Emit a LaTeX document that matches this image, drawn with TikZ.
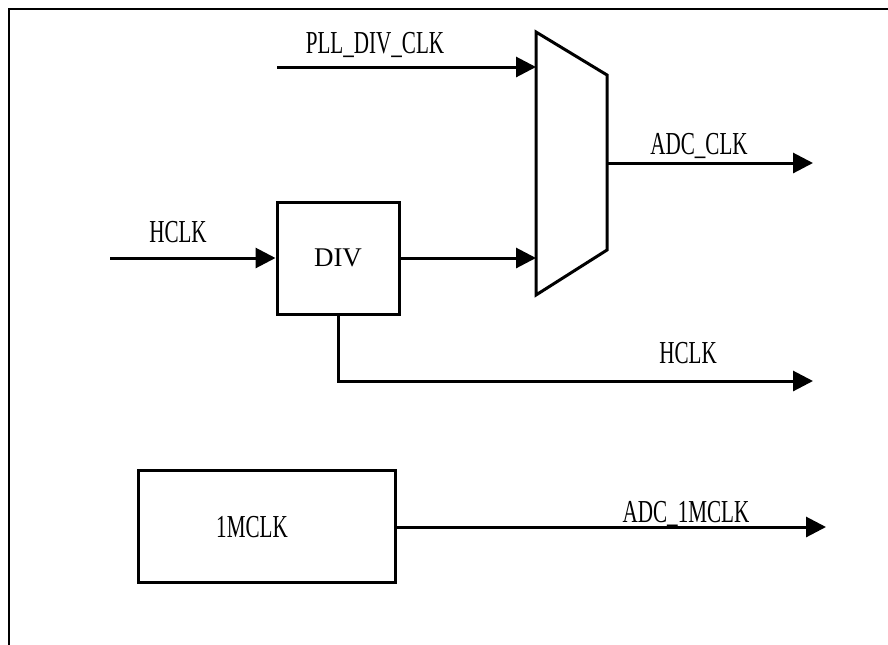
\documentclass[tikz,border=0pt]{standalone}
\usepackage{fontspec}
\setmainfont{Liberation Serif}
\newfontfamily\sigfont[FakeStretch=0.66]{Liberation Serif}
\usetikzlibrary{arrows.meta,positioning,calc}

\begin{document}
\begin{tikzpicture}[x=0.5pt,y=-0.5pt,>={Triangle[length=10pt,width=10pt]}]
  \tikzstyle{blk}=[draw,line width=1.5pt,inner sep=0pt]
  \tikzstyle{wire}=[line width=1.5pt]
  \tikzstyle{sig}=[font=\sigfont\fontsize{16}{16}\selectfont,anchor=base,inner sep=0pt]
  \useasboundingbox (0,0) rectangle (888,644);
  \draw[line width=0.8pt] (9,660) -- (9,9) -- (900,9);
  % mux
  \coordinate (mtl) at (536,32);
  \coordinate (mtr) at (607,75);
  \coordinate (mbr) at (607,250);
  \coordinate (mbl) at (536,295);
  \draw[wire,line join=miter] (mtl) -- (mtr) -- (mbr) -- (mbl) -- cycle;
  \coordinate (in1) at (536,67);
  \coordinate (in2) at (536,258);
  \coordinate (mout) at (607,163);
  % blocks
  \node[blk,minimum width=61pt,minimum height=56pt,font=\fontsize{13.5}{14}\selectfont] (div) at (338,258) {DIV};
  \node[blk,minimum width=128.5pt,minimum height=56pt] (mhz) at (266.5,526) {};
  % wires
  \coordinate (pllsrc) at (277,67);
  \coordinate (hsrc) at (110,258);
  \coordinate (adcdst) at (813,163);
  \coordinate (hdst) at (813,381);
  \coordinate (mdst) at (826,527);
  \draw[wire,->] (pllsrc) -- (in1);
  \draw[wire,->] (hsrc) -- (div);
  \draw[wire,->] (div) -- (in2);
  \draw[wire,->] (mout) -- (adcdst);
  \draw[wire,->] (div.south) |- (hdst);
  \draw[wire,->] (mhz.east |- mdst) -- (mdst);
  % labels
  \node[sig] (pll lbl) at (375,53) {PLL\_DIV\_CLK};
  \node[sig] (hin lbl) at (178,242) {HCLK};
  \node[sig] (adc lbl) at (699,154) {ADC\_CLK};
  \node[sig] (hout lbl) at (688,363) {HCLK};
  \node[sig] (m lbl) at (686,522) {ADC\_1MCLK};
  \node[sig] (mhz lbl) at (252,537) {1MCLK};
\end{tikzpicture}
\end{document}
